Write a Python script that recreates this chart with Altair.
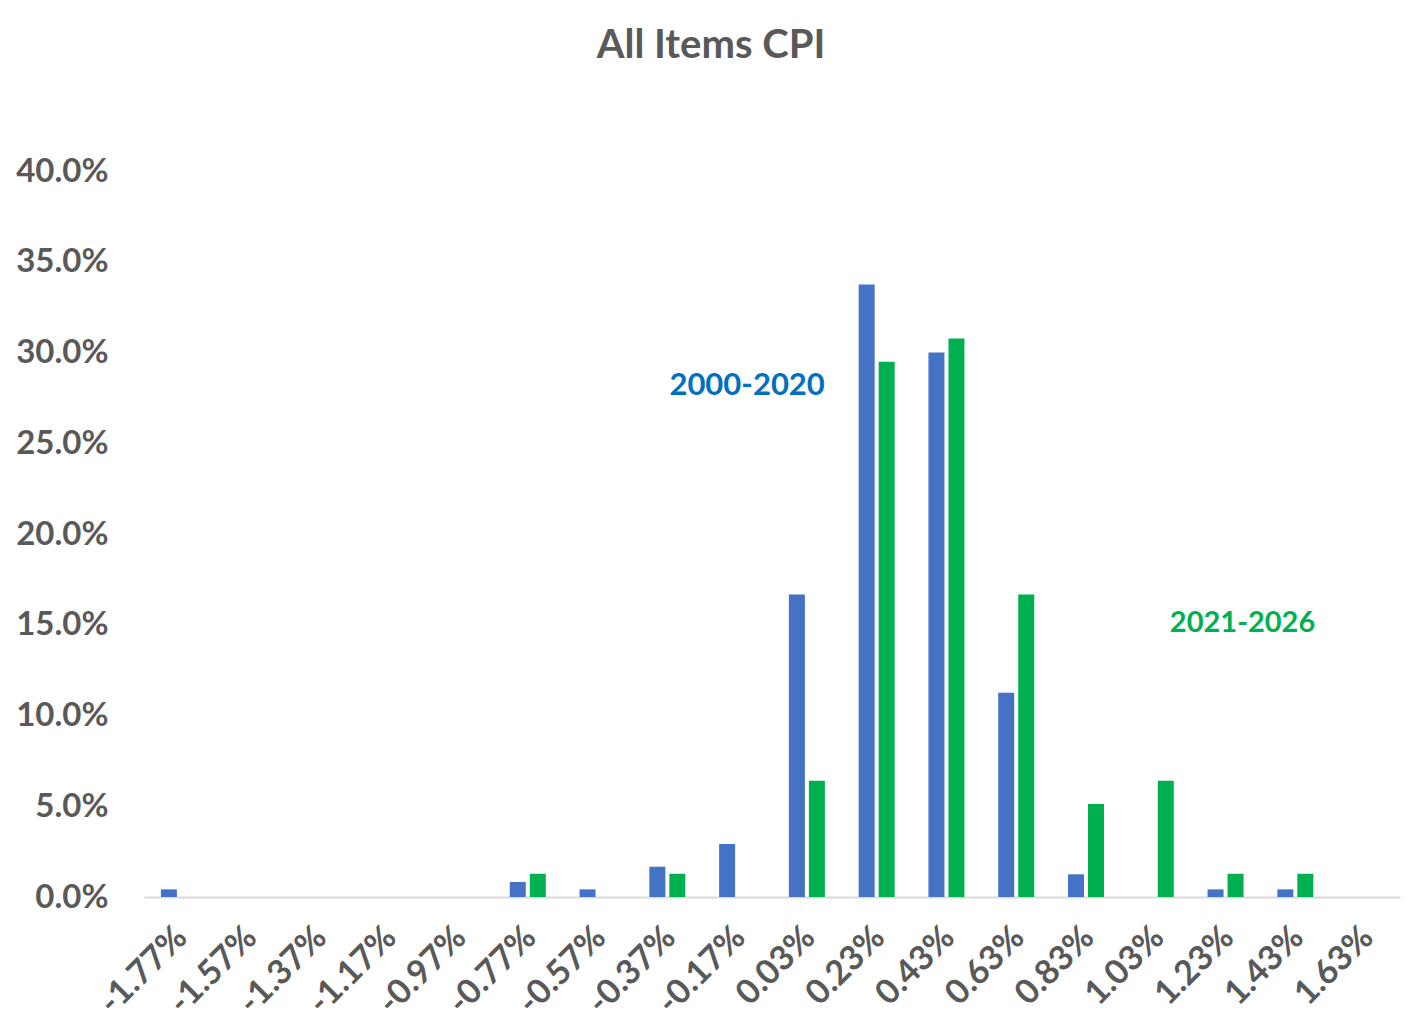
import altair as alt
import pandas as pd

categories = ["-1.77%", "-1.57%", "-1.37%", "-1.17%", "-0.97%", "-0.77%", "-0.57%",
              "-0.37%", "-0.17%", "0.03%", "0.23%", "0.43%", "0.63%", "0.83%",
              "1.03%", "1.23%", "1.43%", "1.63%"]
series_names = ["2000-2020", "2021-2026"]
blue_values = [0.0042, 0.0, 0.0, 0.0, 0.0, 0.0083, 0.0042, 0.0167, 0.0292, 0.1667,
               0.3375, 0.3000, 0.1125, 0.0125, 0.0, 0.0042, 0.0042, 0.0]
green_values = [0.0, 0.0, 0.0, 0.0, 0.0, 0.0128, 0.0, 0.0128, 0.0, 0.0641,
                0.2949, 0.3077, 0.1667, 0.0513, 0.0641, 0.0128, 0.0128, 0.0]
colors = ["#4472C4", "#00B050"]

label_texts = ["2000-2020", "2021-2026"]
label_cats = ["-0.17%", "1.23%"]
label_vals = [0.2818, 0.1512]
label_colors = ["#0070C0", "#00B050"]

rows = []
for c, b, g in zip(categories, blue_values, green_values):
    rows.append({"bin": c, "series": series_names[0], "share": b})
    rows.append({"bin": c, "series": series_names[1], "share": g})
df = pd.DataFrame(rows)

FONT = "Lato"
GRAY = "#595959"

x_enc = alt.X("bin:N", sort=categories,
              scale=alt.Scale(domain=categories, paddingInner=0.4842, paddingOuter=0.2421),
              axis=alt.Axis(title=None, labelAngle=-45, labelAlign="right", labelBaseline="middle",
                            labelFont=FONT, labelFontSize=34, labelFontWeight="bold",
                            labelColor=GRAY, labelPadding=35, labelOffset=3,
                            ticks=False, domainColor="#D9D9D9", domainWidth=2,
                            grid=False, labelOverlap=False))
y_enc = alt.Y("share:Q",
              scale=alt.Scale(domain=[0, 0.4]),
              axis=alt.Axis(title=None, format=".1%", values=[i * 0.05 for i in range(9)],
                            labelFont=FONT, labelFontSize=33, labelFontWeight="bold",
                            labelColor=GRAY, labelPadding=36, ticks=False, domain=False,
                            grid=False))

bars = alt.Chart(df).mark_bar().encode(
    x=x_enc,
    y=y_enc,
    xOffset=alt.XOffset("series:N", sort=series_names,
                        scale=alt.Scale(paddingInner=0.2, paddingOuter=0)),
    color=alt.Color("series:N", scale=alt.Scale(domain=series_names, range=colors), legend=None),
)

def note(i, size, dx):
    d = pd.DataFrame({"text": [label_texts[i]], "bin": [label_cats[i]], "share": [label_vals[i]]})
    return alt.Chart(d).mark_text(font=FONT, fontSize=size, fontWeight="bold", baseline="middle",
                                  color=label_colors[i], dx=dx).encode(
        x=alt.X("bin:N", sort=categories),
        y=alt.Y("share:Q"),
        text="text:N",
        xOffset=alt.value(0),
    )

chart = alt.layer(bars, note(0, 31, 28), note(1, 29, 35)).properties(
    width=1256, height=726,
    autosize=alt.AutoSizeParams(type="none"),
    padding={"left": 136, "top": 163, "right": 15, "bottom": 129},
    title=alt.TitleParams("All Items CPI", font=FONT, fontSize=40, fontWeight="bold",
                          color=GRAY, anchor="middle", dx=-61, offset=89),
).configure_view(stroke=None)

chart.save("out.html", embed_options={"renderer": "svg", "actions": False})
